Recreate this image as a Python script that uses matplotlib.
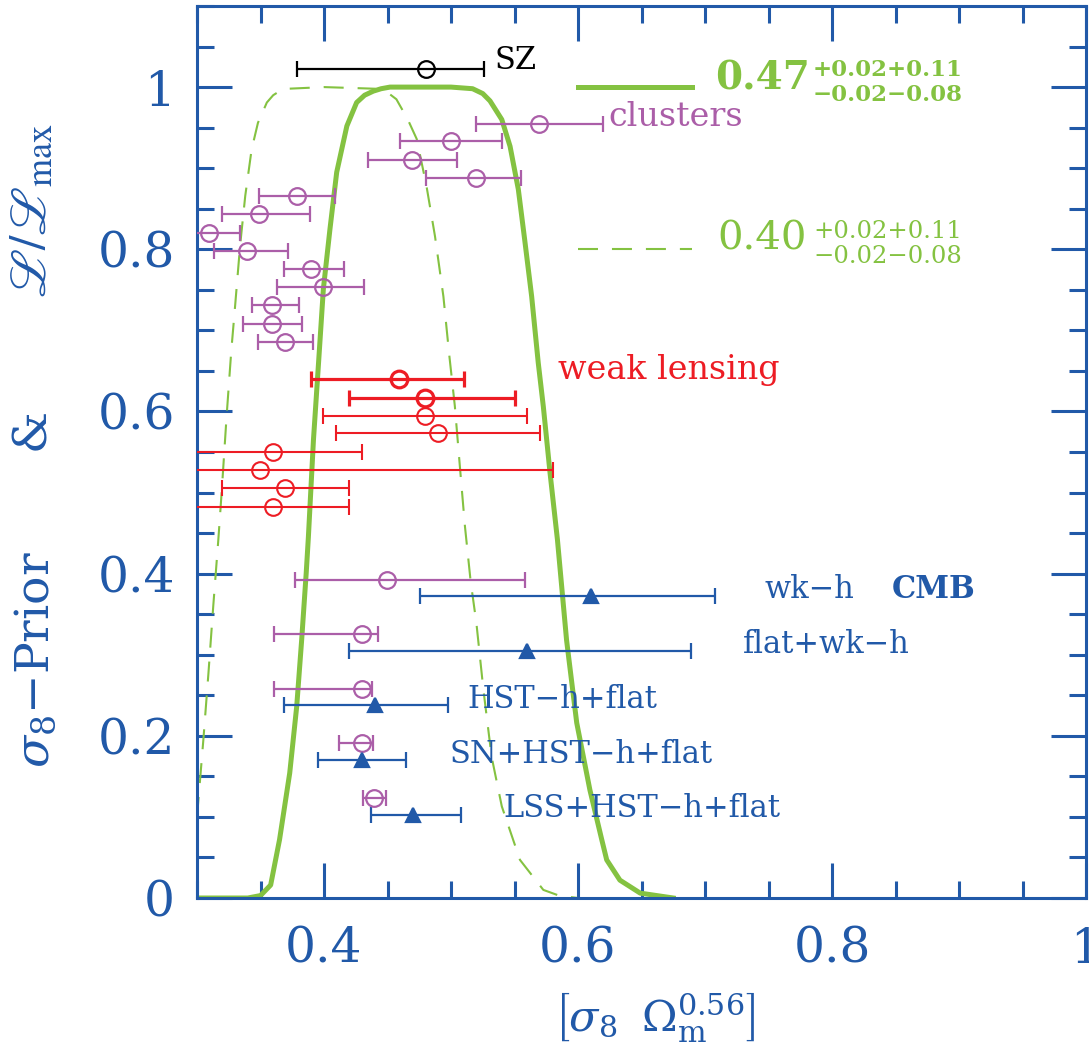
import numpy as np
import matplotlib
matplotlib.use("Agg")
from matplotlib import pyplot as plt
from matplotlib.ticker import MultipleLocator
from matplotlib.transforms import blended_transform_factory

# likelihood curves (solid: 0.47 result, dashed: 0.40 result)
solid_x = [0.300, 0.340, 0.350, 0.358, 0.365, 0.373, 0.3785, 0.3824, 0.386, 0.3877,
           0.3917, 0.3955, 0.3995, 0.4047, 0.410, 0.418, 0.4257, 0.432, 0.4388, 0.445,
           0.452, 0.500, 0.517, 0.525, 0.5307, 0.540, 0.5465, 0.553, 0.558, 0.5635,
           0.5687, 0.5727, 0.578, 0.5838, 0.591, 0.599, 0.6094, 0.6187, 0.6226, 0.633,
           0.649, 0.675]
solid_y = [0.000, 0.000, 0.003, 0.016, 0.072, 0.154, 0.236, 0.318, 0.401, 0.445,
           0.565, 0.655, 0.751, 0.825, 0.895, 0.952, 0.981, 0.990, 0.995, 0.998,
           1.000, 1.000, 0.998, 0.992, 0.983, 0.960, 0.927, 0.874, 0.812, 0.742,
           0.660, 0.606, 0.524, 0.442, 0.318, 0.216, 0.133, 0.072, 0.047, 0.022,
           0.006, 0.000]

dash_x = [0.300, 0.305, 0.309, 0.3128, 0.3168, 0.3194, 0.3233, 0.327, 0.330, 0.3339,
          0.338, 0.343, 0.348, 0.355, 0.360, 0.365, 0.372, 0.400, 0.440, 0.448,
          0.452, 0.457, 0.466, 0.473, 0.4807, 0.4874, 0.494, 0.4986, 0.503, 0.507,
          0.511, 0.5155, 0.520, 0.5255, 0.532, 0.540, 0.5543, 0.5727, 0.585, 0.600]
dash_y = [0.100, 0.195, 0.277, 0.360, 0.442, 0.500, 0.594, 0.675, 0.730, 0.804,
          0.866, 0.923, 0.956, 0.981, 0.990, 0.995, 0.998, 1.000, 0.998, 0.995,
          0.991, 0.985, 0.960, 0.936, 0.878, 0.816, 0.742, 0.670, 0.607, 0.532,
          0.458, 0.390, 0.339, 0.257, 0.174, 0.113, 0.047, 0.010, 0.003, 0.000]

# SZ point
sz_x, sz_y, sz_lo, sz_hi = [0.480], [1.022], [0.379], [0.526]

# cluster abundance points
cl_x = [0.5695, 0.500, 0.4695, 0.5197, 0.379, 0.349, 0.3095, 0.339, 0.3895, 0.3995, 0.359, 0.359, 0.369]
cl_y = [0.955, 0.934, 0.910, 0.888, 0.866, 0.843, 0.820, 0.798, 0.776, 0.753, 0.731, 0.708, 0.686]
cl_lo = [0.520, 0.460, 0.435, 0.480, 0.349, 0.3195, 0.290, 0.3134, 0.3685, 0.3627, 0.3436, 0.3365, 0.3478]
cl_hi = [0.620, 0.540, 0.505, 0.555, 0.409, 0.389, 0.334, 0.372, 0.416, 0.4315, 0.3806, 0.3829, 0.391]

# weak lensing points
wl_x = [0.4593, 0.4795, 0.4795, 0.490, 0.3595, 0.3496, 0.369, 0.3596]
wl_y = [0.640, 0.617, 0.595, 0.573, 0.550, 0.5275, 0.505, 0.482]
wl_lo = [0.3895, 0.420, 0.3995, 0.4094, 0.250, 0.250, 0.3195, 0.250]
wl_hi = [0.5102, 0.550, 0.560, 0.570, 0.4297, 0.580, 0.4197, 0.4197]

# cluster points paired with the CMB combinations
pc_x = [0.4499, 0.4297, 0.4297, 0.4297, 0.4396]
pc_y = [0.3926, 0.3255, 0.258, 0.191, 0.123]
pc_lo = [0.377, 0.3606, 0.3606, 0.412, 0.4305]
pc_hi = [0.558, 0.4428, 0.438, 0.4388, 0.4488]

# CMB combinations
cmb_x = [0.610, 0.5596, 0.4402, 0.4297, 0.4698]
cmb_y = [0.372, 0.305, 0.2383, 0.1704, 0.1025]
cmb_lo = [0.4756, 0.4197, 0.3687, 0.395, 0.4368]
cmb_hi = [0.708, 0.6887, 0.4974, 0.4646, 0.5076]
cmb_labels = ['flat+wk\u2212h', 'HST\u2212h+flat', 'SN+HST\u2212h+flat', 'LSS+HST\u2212h+flat']

xtick_vals = [0.4, 0.6, 0.8, 1.0]
xtick_labels = ['0.4', '0.6', '0.8', '1']
ytick_vals = [0.0, 0.2, 0.4, 0.6, 0.8, 1.0]
ytick_labels = ['0', '0.2', '0.4', '0.6', '0.8', '1']

# key samples for the two likelihood curves
key_x = [0.60, 0.69]
key_y = [1.0, 0.80]

BLUE = '#2159A8'
GREEN = '#84C241'
MAGENTA = '#AB5EA8'
RED = '#ED1C24'

plt.rcParams['font.family'] = ['DejaVu Serif']
plt.rcParams['mathtext.fontset'] = 'dejavuserif'

fig = plt.figure(figsize=(10.89, 10.47), dpi=100)
ax = fig.add_axes([197 / 1089, 1 - 898 / 1047, 889 / 1089, 892 / 1047])


def bars(x, y, lo, hi, color, marker='o', ms=12, lw=1.6, mfc='none'):
    x = np.asarray(x)
    xerr = [x - np.asarray(lo), np.asarray(hi) - x]
    ax.errorbar(x, y, xerr=xerr, fmt=marker, color=color, ms=ms, mfc=mfc, mew=lw,
                elinewidth=lw, capsize=6, capthick=lw, zorder=3)


# curves
ax.plot(solid_x, solid_y, color=GREEN, lw=3.6, zorder=2)
ax.plot(dash_x, dash_y, color=GREEN, lw=1.5, dashes=(9.6, 6.7), zorder=2)
ax.plot(key_x, [key_y[0]] * 2, color=GREEN, lw=3.6)
ax.plot(key_x, [key_y[1]] * 2, color=GREEN, lw=1.5, dashes=(9.6, 6.7))

# data points
bars(sz_x, sz_y, sz_lo, sz_hi, 'black')
bars(cl_x, cl_y, cl_lo, cl_hi, MAGENTA)
bars(wl_x[:2], wl_y[:2], wl_lo[:2], wl_hi[:2], RED, lw=2.3)
bars(wl_x[2:], wl_y[2:], wl_lo[2:], wl_hi[2:], RED, lw=1.5)
bars(pc_x, pc_y, pc_lo, pc_hi, MAGENTA)
bars(cmb_x, cmb_y, cmb_lo, cmb_hi, BLUE, marker='^', ms=10, mfc=BLUE)

# annotations
ax.text(0.5346, 1.022, 'SZ', color='black', fontsize=22, va='baseline')
ax.text(0.6236, 0.952, 'clusters', color=MAGENTA, fontsize=24, va='baseline')
ax.text(0.708, 0.9975, '0.47', color=GREEN, fontsize=28, weight='bold', va='baseline')
ax.text(0.785, 1.0136, '+0.02+0.11', color=GREEN, fontsize=16.5, weight='bold', va='baseline')
ax.text(0.785, 0.983, '\u22120.02\u22120.08', color=GREEN, fontsize=16.5, weight='bold', va='baseline')
ax.text(0.7094, 0.800, '0.40', color=GREEN, fontsize=29, va='baseline')
ax.text(0.785, 0.8144, '+0.02+0.11', color=GREEN, fontsize=17.5, va='baseline')
ax.text(0.785, 0.7835, '\u22120.02\u22120.08', color=GREEN, fontsize=17.5, va='baseline')
ax.text(0.5843, 0.6395, 'weak lensing', color=RED, fontsize=24, va='baseline')
ax.text(0.747, 0.370, 'wk\u2212h', color=BLUE, fontsize=22, va='baseline')
ax.text(0.847, 0.370, 'CMB', color=BLUE, fontsize=22, weight='bold', va='baseline')
for lab, lx, ly in zip(cmb_labels, [0.730, 0.5126, 0.499, 0.541], [0.3025, 0.2346, 0.1667, 0.100]):
    ax.text(lx, ly, lab, color=BLUE, fontsize=22, va='baseline')

# axes
ax.set_xlim(0.3, 1.0)
ax.set_ylim(0.0, 1.1)
ax.set_xticks(xtick_vals)
ax.set_xticklabels(xtick_labels)
ax.set_yticks(ytick_vals)
ax.set_yticklabels(ytick_labels)
ax.xaxis.set_minor_locator(MultipleLocator(0.05))
ax.yaxis.set_minor_locator(MultipleLocator(0.05))
ax.tick_params(which='both', direction='in', top=True, right=True, color=BLUE,
               width=2.2, labelcolor=BLUE, labelsize=35)
ax.tick_params(which='major', length=25)
ax.tick_params(which='minor', length=12)
ax.tick_params(axis='y', pad=16)
ax.tick_params(axis='x', pad=20)
for sp in ax.spines.values():
    sp.set_color(BLUE)
    sp.set_linewidth(2.2)

# axis labels placed by hand like the original
ax.text(0.515, -0.133, r'$\left[\sigma_8\;\;\Omega_\mathrm{m}^{0.56}\right]$', color=BLUE,
        fontsize=31, ha='center', va='center', transform=ax.transAxes)
trans = blended_transform_factory(ax.transAxes, ax.transData)
ax.text(-0.181, 0.294, '$\\sigma_8$\u2212Prior', color=BLUE, fontsize=34, rotation=90,
        ha='center', va='center', transform=trans)
ax.text(-0.186, 0.578, '&', color=BLUE, fontsize=34, rotation=90,
        ha='center', va='center', transform=trans)
ax.text(-0.185, 0.847, r'$\mathscr{L}/\mathscr{L}_\mathrm{max}$', color=BLUE, fontsize=37,
        rotation=90, ha='center', va='center', transform=trans, math_fontfamily='stix')

fig.savefig('out.png', dpi=100)
